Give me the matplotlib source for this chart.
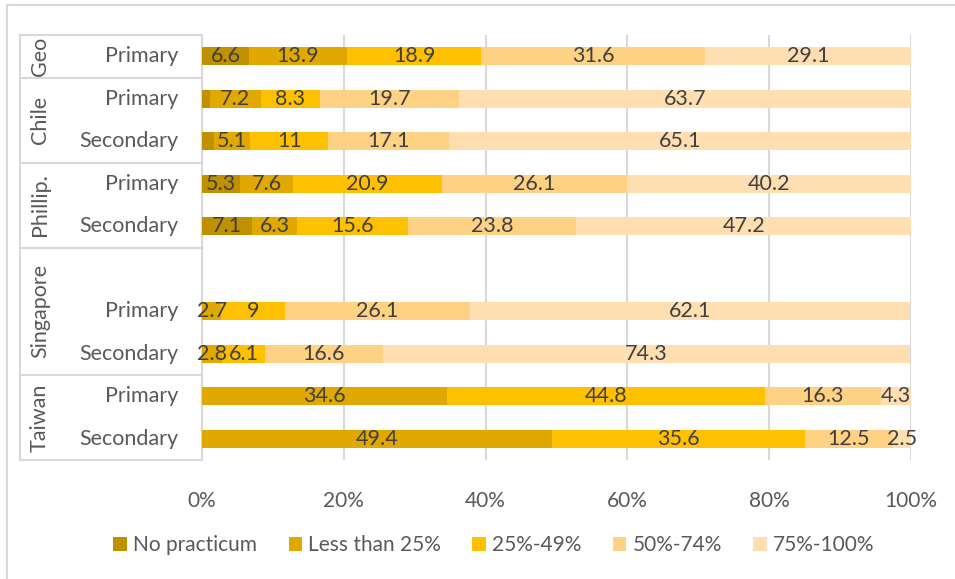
import numpy as np
import matplotlib
matplotlib.use("Agg")
import matplotlib.pyplot as plt
from matplotlib.patches import Patch
import matplotlib.transforms as mtransforms

plt.rcParams['font.family'] = ['Lato', 'DejaVu Sans']

# rows, top to bottom
row_groups = ['Geo', 'Chile', 'Chile', 'Phillip.', 'Phillip.',
              'Singapore', 'Singapore', 'Singapore', 'Taiwan', 'Taiwan']
row_levels = ['Primary', 'Primary', 'Secondary', 'Primary', 'Secondary',
              '', 'Primary', 'Secondary', 'Primary', 'Secondary']

series_names = ['No practicum', 'Less than 25%', '25%-49%', '50%-74%', '75%-100%']
no_practicum = [6.6, 1.1, 1.7, 5.3, 7.1, 0, 0, 0, 0, 0]
less_25 = [13.9, 7.2, 5.1, 7.6, 6.3, 0, 2.7, 2.8, 34.6, 49.4]
p25_49 = [18.9, 8.3, 11, 20.9, 15.6, 0, 9, 6.1, 44.8, 35.6]
p50_74 = [31.6, 19.7, 17.1, 26.1, 23.8, 0, 26.1, 16.6, 16.3, 12.5]
p75_100 = [29.1, 63.7, 65.1, 40.2, 47.2, 0, 62.1, 74.3, 4.3, 2.5]

x_ticks = [0, 20, 40, 60, 80, 100]

colors = ['#BF9000', '#E0A800', '#FFC000', '#FFD283', '#FFDFB2']
grid_col = '#D9D9D9'
label_col = '#404040'
tick_col = '#595959'

fig = plt.figure(figsize=(9.55, 5.79), dpi=100)
W, H = 955, 579
x0, x1, y0, y1 = 202, 911, 35, 460
ax = fig.add_axes([x0 / W, 1 - y1 / H, (x1 - x0) / W, (y1 - y0) / H])

n = len(row_levels)
ypos = np.arange(n)
left = np.zeros(n)
for name, vals, col in zip(series_names,
                           [no_practicum, less_25, p25_49, p50_74, p75_100],
                           colors):
    vals = np.array(vals, dtype=float)
    ax.barh(ypos, vals, left=left, height=0.43, color=col, label=name, zorder=3)
    for y, l, v in zip(ypos, left, vals):
        if v >= 2:
            ax.text(l + v / 2, y, f'{v:g}', ha='center', va='center',
                    fontsize=15.5, color=label_col, zorder=4)
    left += vals

ax.set_xlim(0, 100)
ax.set_ylim(n - 0.5, -0.5)
ax.set_xticks(x_ticks)
ax.set_xticklabels([f'{t}%' for t in x_ticks], fontsize=15, color=tick_col)
ax.tick_params(axis='x', length=0, pad=22)
ax.set_yticks([])
for s in ['top', 'right', 'bottom']:
    ax.spines[s].set_visible(False)
ax.spines['left'].set_color(grid_col)
ax.spines['left'].set_linewidth(1.5)
ax.xaxis.grid(True, color=grid_col, linewidth=1.5, zorder=0)
ax.set_axisbelow(True)

# multi-level category axis
trans = mtransforms.blended_transform_factory(ax.transAxes, ax.transData)
frame_x = (20 - x0) / (x1 - x0)
for y, lab in zip(ypos, row_levels):
    ax.text((178 - x0) / (x1 - x0), y, lab, transform=trans, ha='right',
            va='center', fontsize=15.5, color=tick_col)

group_names = []
for g in row_groups:
    if g not in group_names:
        group_names.append(g)
bounds = [-0.5]
for g in group_names:
    idx = [i for i, r in enumerate(row_groups) if r == g]
    mid = (idx[0] + idx[-1]) / 2
    ax.text((40 - x0) / (x1 - x0), mid, g, transform=trans, rotation=90,
            ha='center', va='center', fontsize=15.5, color=tick_col)
    bounds.append(idx[-1] + 0.5)
for b in bounds:
    ax.plot([frame_x, 0], [b, b], transform=trans, color=grid_col,
            linewidth=1.5, clip_on=False)
ax.plot([frame_x, frame_x], [-0.5, n - 0.5], transform=trans, color=grid_col,
        linewidth=1.5, clip_on=False)

# chart border (top and left visible)
fig.add_artist(plt.Line2D([7 / W, 1], [1 - 5 / H, 1 - 5 / H], color=grid_col, linewidth=1.5))
fig.add_artist(plt.Line2D([7 / W, 7 / W], [0, 1 - 5 / H], color=grid_col, linewidth=1.5))

handles = [Patch(facecolor=c, edgecolor='none') for c in colors]
fig.legend(handles, series_names, loc='center', ncol=5,
           bbox_to_anchor=(494 / W, 1 - 545 / H), frameon=False,
           fontsize=15, labelcolor=tick_col, handlelength=0.65,
           handleheight=0.65, handletextpad=0.3, columnspacing=1.5)

fig.savefig('out.png', dpi=100)
